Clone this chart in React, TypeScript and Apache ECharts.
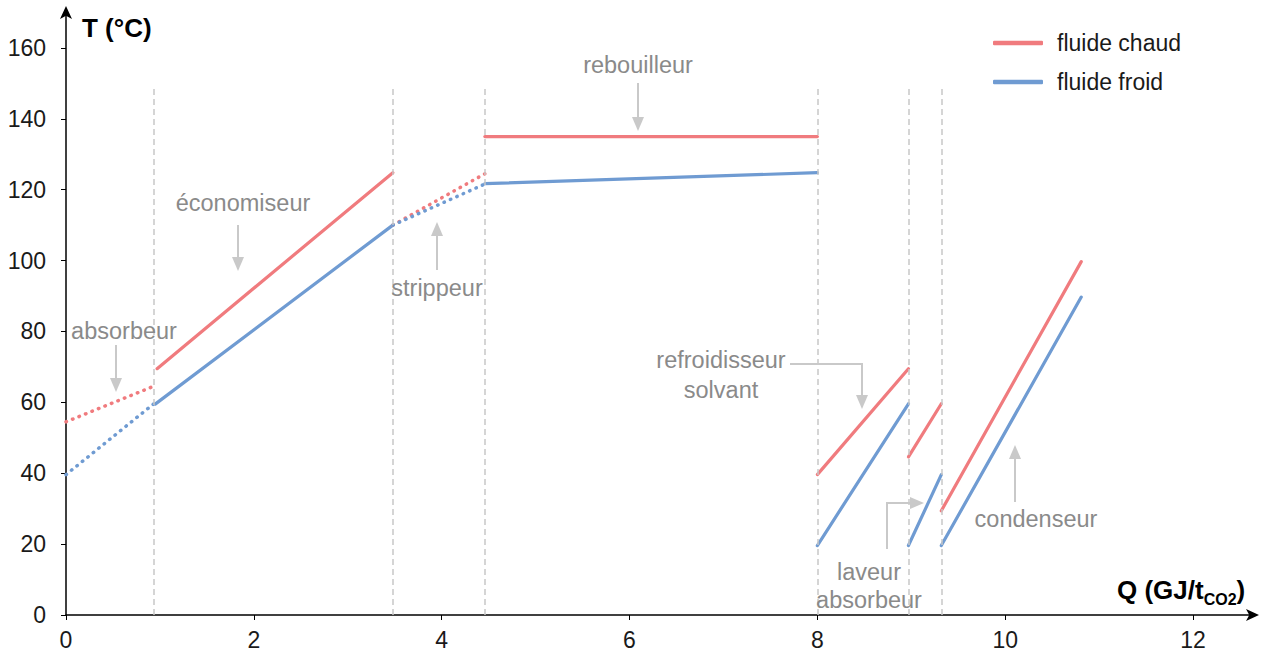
import React, { useEffect, useRef } from "react";
import * as echarts from "echarts";

// ---- data ----
const HOT = "#f07b7e";
const COLD = "#6f9bd2";
const xTicks = [0, 2, 4, 6, 8, 10, 12];
const yTicks = [0, 20, 40, 60, 80, 100, 120, 140, 160];
const dividerQ = [0.93, 3.48, 4.46, 8, 8.97, 9.32];
const dividerTop = 149;

// hot fluid segments [Q, T]
const hotAbsorbeur = [[0, 54.5], [0.93, 64.5]];
const hotEconomiseur = [[0.97, 69.5], [3.48, 124.8]];
const hotStrippeur = [[3.48, 110], [4.46, 124.5]];
const hotRebouilleur = [[4.46, 135], [8, 135]];
const hotRefroidisseur = [[8, 39.6], [8.97, 69.5]];
const hotLaveur = [[8.97, 44.6], [9.32, 59.6]];
const hotCondenseur = [[9.32, 29.4], [10.81, 99.7]];

// cold fluid segments [Q, T]
const coldAbsorbeur = [[0, 39.6], [0.93, 59.5]];
const coldEconomiseur = [[0.95, 59.5], [3.48, 110]];
const coldStrippeur = [[3.48, 110], [4.46, 121.6]];
const coldRebouilleur = [[4.46, 121.7], [8, 124.8]];
const coldRefroidisseur = [[8, 19.6], [8.97, 59.6]];
const coldLaveur = [[8.97, 19.6], [9.32, 39.6]];
const coldCondenseur = [[9.32, 19.6], [10.81, 89.7]];

const FONT = "'Liberation Sans', Arial, sans-serif";
const GRAY_TXT = "#8a8a8a";
const GRAY_ARW = "#c9c9c9";

function seg(name: string, data: number[][], color: string, dotted: boolean) {
  return {
    name,
    type: "line",
    data,
    symbol: "none",
    silent: true,
    lineStyle: {
      color,
      width: dotted ? 3.5 : 3.2,
      type: dotted ? [0.5, 6.5] : "solid",
      cap: "round",
    },
    itemStyle: { color },
  };
}

function text(t: string, x: number, y: number) {
  return {
    type: "text",
    x,
    y,
    style: {
      text: t,
      fill: GRAY_TXT,
      font: `23.5px ${FONT}`,
      align: "center",
      verticalAlign: "middle",
    },
    z: 100,
  };
}

function arrowV(x: number, y1: number, tipY: number) {
  const dir = tipY > y1 ? 1 : -1;
  const baseY = tipY - dir * 14;
  return [
    { type: "line", shape: { x1: x, y1, x2: x, y2: baseY }, style: { stroke: GRAY_ARW, lineWidth: 2 }, z: 100 },
    {
      type: "polygon",
      shape: { points: [[x - 6, baseY], [x + 6, baseY], [x, tipY]] },
      style: { fill: GRAY_ARW },
      z: 100,
    },
  ];
}

function arrowElbowDown(x0: number, y0: number, x1: number, tipY: number) {
  const baseY = tipY - 14;
  return [
    { type: "polyline", shape: { points: [[x0, y0], [x1, y0], [x1, baseY]] }, style: { stroke: GRAY_ARW, lineWidth: 2, fill: null }, z: 100 },
    { type: "polygon", shape: { points: [[x1 - 6, baseY], [x1 + 6, baseY], [x1, tipY]] }, style: { fill: GRAY_ARW }, z: 100 },
  ];
}

function arrowElbowRight(x0: number, y0: number, y1: number, tipX: number) {
  const baseX = tipX - 14;
  return [
    { type: "polyline", shape: { points: [[x0, y0], [x0, y1], [baseX, y1]] }, style: { stroke: GRAY_ARW, lineWidth: 2, fill: null }, z: 100 },
    { type: "polygon", shape: { points: [[baseX, y1 - 6], [baseX, y1 + 6], [tipX, y1]] }, style: { fill: GRAY_ARW }, z: 100 },
  ];
}

export default function App() {
  const ref = useRef<HTMLDivElement>(null);
  useEffect(() => {
    if (!ref.current) return;
    const chart = echarts.init(ref.current, undefined, { renderer: "svg" });
    const dividers = {
      name: "dividers",
      type: "line",
      data: [],
      silent: true,
      markLine: {
        silent: true,
        symbol: "none",
        label: { show: false },
        lineStyle: { color: "#c8c8c8", type: [6, 4], width: 1.5 },
        data: dividerQ.map((q) => [{ coord: [q, 0] }, { coord: [q, dividerTop] }]),
      },
    };
    const option: any = {
      animation: false,
      textStyle: { fontFamily: FONT },
      grid: { left: 66, right: 8, top: 10, bottom: 41, containLabel: false },
      legend: {
        left: 993,
        top: 31.5,
        padding: 0,
        orient: "vertical",
        icon: "roundRect",
        itemWidth: 50,
        itemHeight: 4.5,
        itemGap: 16,
        data: [
          { name: "fluide chaud", itemStyle: { color: HOT } },
          { name: "fluide froid", itemStyle: { color: COLD } },
        ],
        textStyle: { fontSize: 23, color: "#1a1a1a", fontFamily: FONT, padding: [0, 0, 0, 9], lineHeight: 23 },
        selectedMode: false,
      },
      xAxis: {
        type: "value",
        min: 0,
        max: 12.66,
        splitLine: { show: false },
        axisLine: { lineStyle: { color: "#000", width: 1.5 }, symbol: ["none", "arrow"], symbolSize: [9, 13], symbolOffset: [0, 4] },
        axisTick: { show: true, length: 5, lineStyle: { color: "#000" }, customValues: xTicks },
        axisLabel: { color: "#1a1a1a", fontSize: 23, margin: 13, customValues: xTicks, fontFamily: FONT },
      },
      yAxis: {
        type: "value",
        min: 0,
        max: 170.7,
        splitLine: { show: false },
        axisLine: { lineStyle: { color: "#000", width: 1.5 }, symbol: ["none", "arrow"], symbolSize: [9, 13], symbolOffset: [0, 4] },
        axisTick: { show: true, length: 5, lineStyle: { color: "#000" }, customValues: yTicks },
        axisLabel: { color: "#1a1a1a", fontSize: 23, margin: 20, customValues: yTicks, fontFamily: FONT },
      },
      series: [
        seg("fluide chaud", hotEconomiseur, HOT, false),
        seg("fluide froid", coldEconomiseur, COLD, false),
        seg("fluide chaud", hotAbsorbeur, HOT, true),
        seg("fluide chaud", hotStrippeur, HOT, true),
        seg("fluide chaud", hotRebouilleur, HOT, false),
        seg("fluide chaud", hotRefroidisseur, HOT, false),
        seg("fluide chaud", hotLaveur, HOT, false),
        seg("fluide chaud", hotCondenseur, HOT, false),
        seg("fluide froid", coldAbsorbeur, COLD, true),
        seg("fluide froid", coldStrippeur, COLD, true),
        seg("fluide froid", coldRebouilleur, COLD, false),
        seg("fluide froid", coldRefroidisseur, COLD, false),
        seg("fluide froid", coldLaveur, COLD, false),
        seg("fluide froid", coldCondenseur, COLD, false),
        dividers,
      ],
      graphic: [
        {
          type: "text",
          x: 82,
          y: 28,
          style: { text: "T (°C)", font: `bold 26px ${FONT}`, fill: "#000", verticalAlign: "middle" },
        },
        {
          type: "text",
          x: 1117,
          y: 590,
          style: {
            text: "{m|Q (GJ/t}{s|CO2}{m|)}",
            verticalAlign: "middle",
            rich: {
              m: { font: `bold 26px ${FONT}`, fill: "#000", color: "#000", verticalAlign: "bottom" },
              s: { font: `bold 16px ${FONT}`, fill: "#000", color: "#000", verticalAlign: "bottom", padding: [0, 0, -4, 0] },
            },
          },
        },
        text("absorbeur", 124, 331),
        ...arrowV(116, 345, 392),
        text("économiseur", 243, 203),
        ...arrowV(238, 225, 271),
        text("strippeur", 437, 288),
        ...arrowV(437, 270, 222),
        text("rebouilleur", 638, 65),
        ...arrowV(638, 83, 131),
        text("refroidisseur", 721, 360),
        text("solvant", 721, 390),
        ...arrowElbowDown(790, 364, 862, 409),
        text("laveur", 869, 572),
        text("absorbeur", 869, 600),
        ...arrowElbowRight(887, 549, 503, 924),
        text("condenseur", 1036, 519),
        ...arrowV(1015, 502, 445),
      ],
    };
    chart.setOption(option);
    return () => chart.dispose();
  }, []);
  return (
    <div
      ref={ref}
      style={{ position: "absolute", left: 0, top: 0, width: 1263, height: 656, background: "#fff" }}
    />
  );
}
